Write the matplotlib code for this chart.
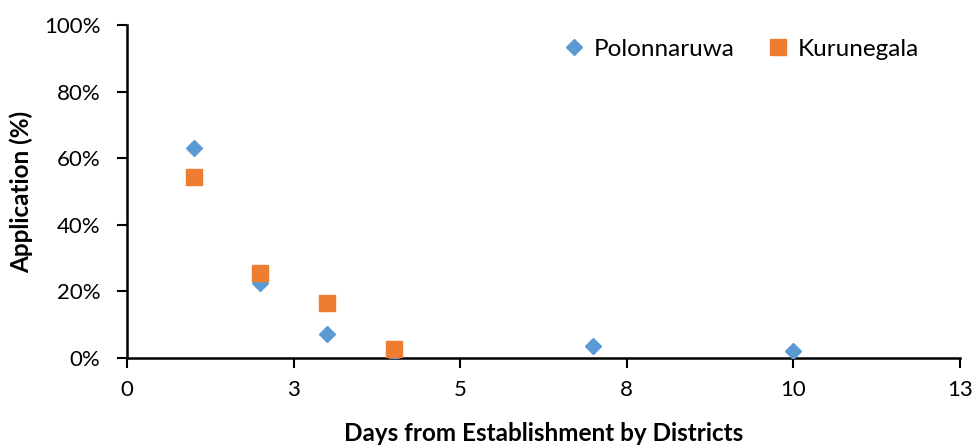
import matplotlib
matplotlib.use("Agg")
import matplotlib.pyplot as plt

plt.rcParams['font.family'] = ['Lato', 'DejaVu Sans']

days = [1, 2, 3, 4, 7, 10]
polonnaruwa = [63.1, 22.6, 7.1, 1.1, 3.5, 2.1]
kuru_days = [1, 2, 3, 4]
kurunegala = [54.5, 25.6, 16.6, 2.8]

x_ticks = [0, 2.5, 5, 7.5, 10, 12.5]
x_labels = ['0', '3', '5', '8', '10', '13']
y_ticks = [0, 20, 40, 60, 80, 100]
y_labels = ['0%', '20%', '40%', '60%', '80%', '100%']

fig = plt.figure(figsize=(9.75, 4.46), dpi=100)
ax = fig.add_axes([127/975, 1-358/446, (960-127)/975, (358-25)/446])

ax.plot(days, polonnaruwa, linestyle='none', marker='D', markersize=8.5,
        color='#5B9BD5', label='Polonnaruwa', zorder=3)
ax.plot(kuru_days, kurunegala, linestyle='none', marker='s', markersize=12,
        color='#ED7D31', label='Kurunegala', zorder=4)

ax.set_xlim(0, 12.5)
ax.set_ylim(0, 100)
ax.set_xticks(x_ticks)
ax.set_xticklabels(x_labels)
ax.set_yticks(y_ticks)
ax.set_yticklabels(y_labels)
ax.tick_params(axis='both', direction='out', length=7, width=1.5, labelsize=16, colors='black')
ax.tick_params(axis='x', pad=9)
ax.tick_params(axis='y', pad=12)
for s in ['top', 'right']:
    ax.spines[s].set_visible(False)
for s in ['left', 'bottom']:
    ax.spines[s].set_linewidth(1.8)
    ax.spines[s].set_color('black')

ax.set_xlabel('Days from Establishment by Districts', fontsize=17.5, fontweight='bold', labelpad=16)
ax.set_ylabel('Application (%)', fontsize=17.5, fontweight='bold', labelpad=8)

ax.legend(loc='upper right', ncol=2, frameon=False, fontsize=17.5,
          handletextpad=0.3, columnspacing=1.3, handlelength=1.0,
          bbox_to_anchor=(0.977, 1.025))

fig.savefig('out.png', dpi=100)
